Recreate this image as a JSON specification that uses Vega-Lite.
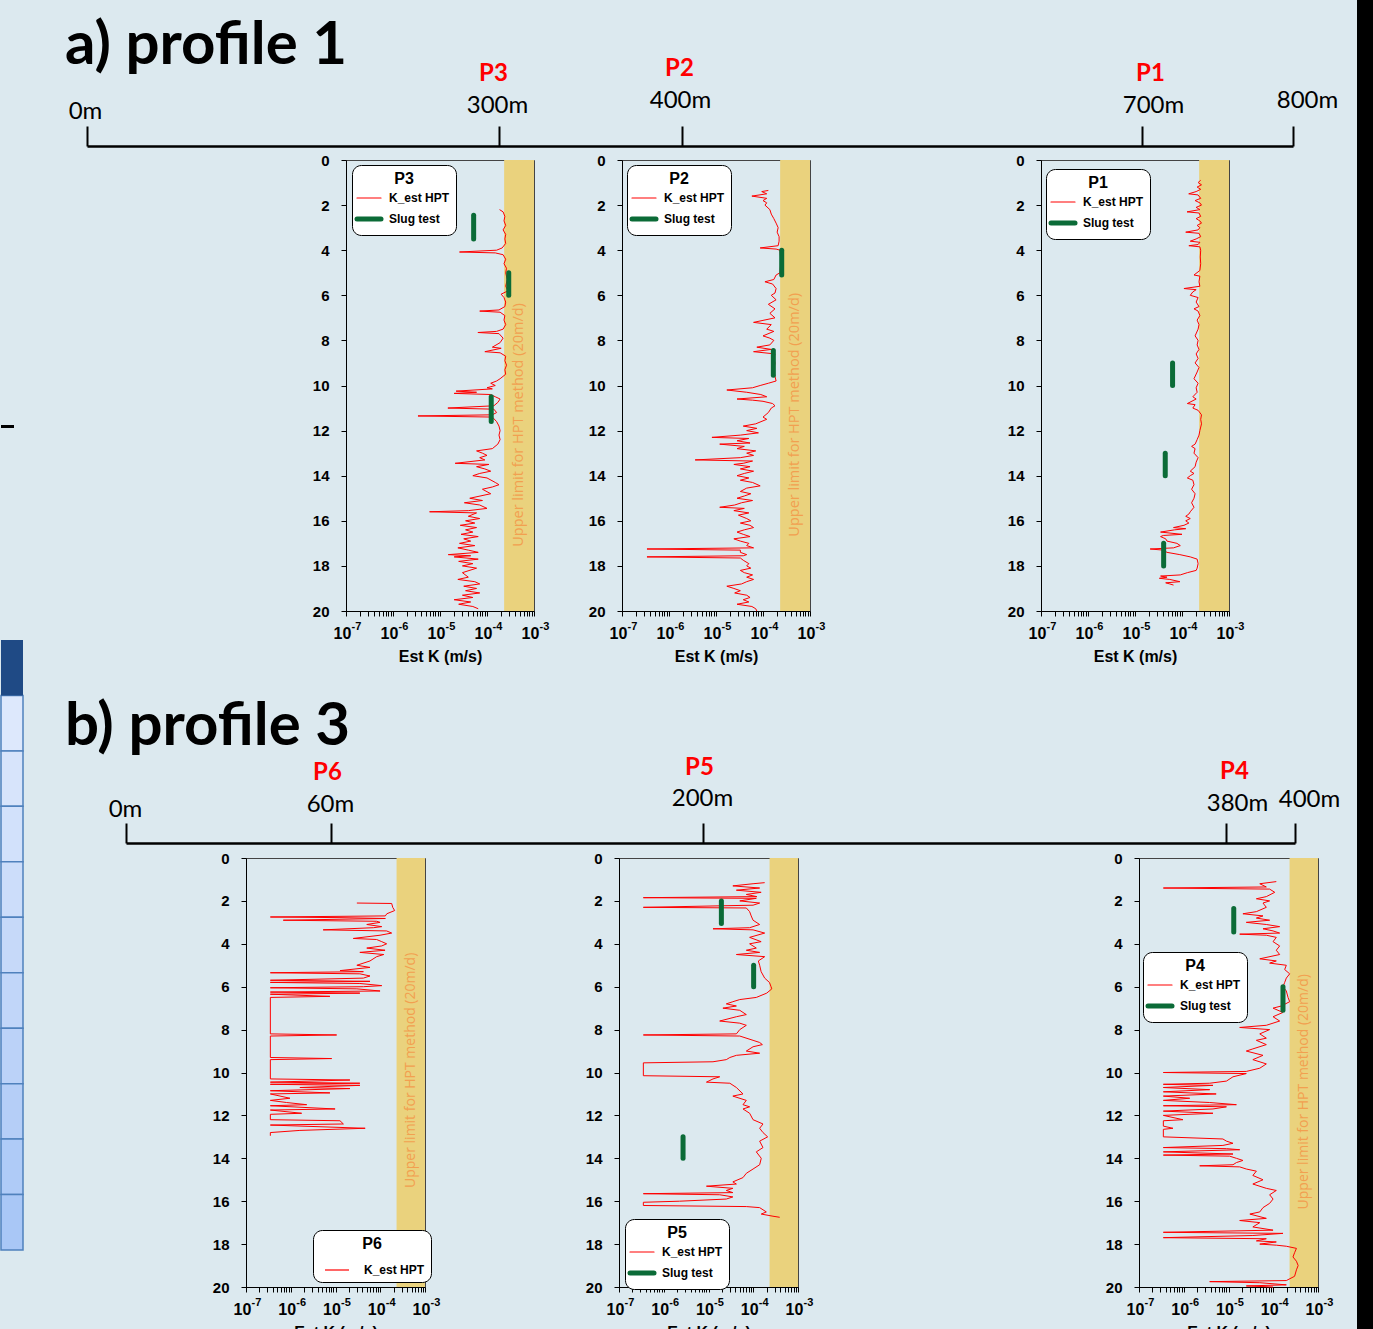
{
  "$schema": "https://vega.github.io/schema/vega-lite/v6.json",
  "usermeta": {"embedOptions": {"actions": false}},
  "background": "#DCE9EF",
  "padding": 0,
  "config": {
    "view": {"stroke": null},
    "axis": {"labelFont": "Liberation Sans", "labelFontWeight": "bold", "labelFontSize": 15, "labelColor": "#000", "titleFont": "Liberation Sans", "titleFontWeight": "bold", "titleFontSize": 16, "titleColor": "#000", "domainColor": "#000", "tickColor": "#000", "grid": false},
    "legend": {"titleFont": "Liberation Sans", "titleFontSize": 16, "titleFontWeight": "bold", "titleColor": "#000", "titleAnchor": "middle", "titlePadding": 5, "labelFont": "Liberation Sans", "labelFontSize": 12, "labelFontWeight": "bold", "labelColor": "#000", "symbolType": "stroke", "symbolSize": 576, "symbolOffset": 5, "symbolStrokeWidth": 1.2, "strokeColor": "#000", "cornerRadius": 9, "fillColor": "#fff", "padding": 6, "rowPadding": 5, "labelOffset": 14, "orient": "none"}
  },
  "datasets": {
    "P3_hpt": [
      {"depth":2.2,"K":1.85e-4},{"depth":2.3,"K":2.2e-4},{"depth":2.5,"K":2.4e-4},{"depth":2.7,"K":2.3e-4},{"depth":2.9,"K":2.5e-4},{"depth":3.1,"K":2.2e-4},{"depth":3.3,"K":2.5e-4},{"depth":3.5,"K":2.4e-4},{"depth":3.7,"K":2.5e-4},{"depth":3.9,"K":2.1e-4},{"depth":4.0,"K":1.6e-4},{"depth":4.08,"K":2.6e-5},{"depth":4.12,"K":1.5e-4},{"depth":4.2,"K":2.2e-4},{"depth":4.4,"K":2.5e-4},{"depth":4.6,"K":2.3e-4},{"depth":4.8,"K":2.6e-4},{"depth":5.0,"K":2.5e-4},{"depth":5.3,"K":2.7e-4},{"depth":5.6,"K":2.5e-4},{"depth":5.8,"K":2.8e-4},{"depth":5.95,"K":2.0e-4},{"depth":6.1,"K":2.3e-4},{"depth":6.3,"K":2.5e-4},{"depth":6.5,"K":2.4e-4},{"depth":6.65,"K":1.8e-4},{"depth":6.7,"K":7.0e-5},{"depth":6.75,"K":1.9e-4},{"depth":6.9,"K":2.4e-4},{"depth":7.1,"K":2.3e-4},{"depth":7.3,"K":2.5e-4},{"depth":7.5,"K":2.2e-4},{"depth":7.6,"K":1.6e-4},{"depth":7.65,"K":6.4e-5},{"depth":7.7,"K":1.8e-4},{"depth":7.9,"K":2.2e-4},{"depth":8.1,"K":1.9e-4},{"depth":8.3,"K":1.3e-4},{"depth":8.35,"K":2.0e-4},{"depth":8.5,"K":9.0e-5},{"depth":8.55,"K":1.9e-4},{"depth":8.7,"K":2.5e-4},{"depth":8.9,"K":2.4e-4},{"depth":9.1,"K":2.6e-4},{"depth":9.3,"K":2.4e-4},{"depth":9.5,"K":2.5e-4},{"depth":9.7,"K":1.9e-4},{"depth":9.8,"K":1.6e-4},{"depth":9.9,"K":1.2e-4},{"depth":10.0,"K":1.5e-4},{"depth":10.1,"K":1.0e-4},{"depth":10.15,"K":1.3e-4},{"depth":10.25,"K":2.2e-5},{"depth":10.3,"K":6.0e-5},{"depth":10.35,"K":2.0e-5},{"depth":10.4,"K":1.2e-4},{"depth":10.5,"K":1.5e-4},{"depth":10.6,"K":1.9e-4},{"depth":10.75,"K":1.7e-4},{"depth":10.9,"K":1.4e-4},{"depth":11.0,"K":1.47e-5},{"depth":11.05,"K":1.4e-4},{"depth":11.2,"K":1.6e-4},{"depth":11.3,"K":1.3e-4},{"depth":11.35,"K":3.4e-6},{"depth":11.4,"K":1.3e-4},{"depth":11.6,"K":1.6e-4},{"depth":11.8,"K":1.8e-4},{"depth":12.0,"K":1.9e-4},{"depth":12.2,"K":1.8e-4},{"depth":12.4,"K":1.9e-4},{"depth":12.6,"K":1.7e-4},{"depth":12.8,"K":1.3e-4},{"depth":12.9,"K":6.0e-5},{"depth":13.0,"K":8.0e-5},{"depth":13.1,"K":1.0e-4},{"depth":13.2,"K":7.0e-5},{"depth":13.3,"K":9.0e-5},{"depth":13.45,"K":2.1e-5},{"depth":13.5,"K":1.1e-4},{"depth":13.6,"K":6.0e-5},{"depth":13.7,"K":9.0e-5},{"depth":13.8,"K":1.2e-4},{"depth":13.9,"K":7.0e-5},{"depth":14.0,"K":5.0e-5},{"depth":14.1,"K":1.0e-4},{"depth":14.3,"K":1.5e-4},{"depth":14.4,"K":1.8e-4},{"depth":14.5,"K":1.3e-4},{"depth":14.6,"K":8.0e-5},{"depth":14.8,"K":1.2e-4},{"depth":15.0,"K":4.3e-5},{"depth":15.1,"K":8.0e-5},{"depth":15.2,"K":3.3e-5},{"depth":15.3,"K":7.0e-5},{"depth":15.45,"K":1.0e-4},{"depth":15.55,"K":4.0e-5},{"depth":15.6,"K":6.0e-6},{"depth":15.65,"K":6.0e-5},{"depth":15.8,"K":4.0e-5},{"depth":15.9,"K":7.0e-5},{"depth":16.0,"K":3.5e-5},{"depth":16.1,"K":5.5e-5},{"depth":16.2,"K":2.7e-5},{"depth":16.3,"K":6.0e-5},{"depth":16.4,"K":3.5e-5},{"depth":16.5,"K":5.0e-5},{"depth":16.6,"K":2.8e-5},{"depth":16.7,"K":6.5e-5},{"depth":16.8,"K":3.2e-5},{"depth":16.9,"K":4.5e-5},{"depth":17.0,"K":2.6e-5},{"depth":17.1,"K":5.5e-5},{"depth":17.2,"K":2.4e-5},{"depth":17.3,"K":4.0e-5},{"depth":17.4,"K":6.5e-5},{"depth":17.5,"K":1.5e-5},{"depth":17.55,"K":4.5e-5},{"depth":17.6,"K":2.0e-5},{"depth":17.7,"K":6.5e-5},{"depth":17.8,"K":2.5e-5},{"depth":17.9,"K":5.0e-5},{"depth":18.0,"K":3.0e-5},{"depth":18.1,"K":6.0e-5},{"depth":18.3,"K":3.0e-5},{"depth":18.5,"K":4.0e-5},{"depth":18.6,"K":2.4e-5},{"depth":18.7,"K":5.5e-5},{"depth":18.8,"K":7.0e-5},{"depth":18.9,"K":3.2e-5},{"depth":19.0,"K":6.0e-5},{"depth":19.1,"K":3.5e-5},{"depth":19.2,"K":7.0e-5},{"depth":19.3,"K":3.0e-5},{"depth":19.4,"K":5.0e-5},{"depth":19.5,"K":2.0e-5},{"depth":19.6,"K":4.5e-5},{"depth":19.7,"K":2.5e-5},{"depth":19.8,"K":5.0e-5},{"depth":19.9,"K":6.5e-5}
    ],
    "P2_hpt": [
      {"depth":1.35,"K":1.3e-4},{"depth":1.4,"K":9.4e-5},{"depth":1.5,"K":1.2e-4},{"depth":1.6,"K":5.8e-5},{"depth":1.7,"K":1.2e-4},{"depth":1.8,"K":1.0e-4},{"depth":1.9,"K":1.2e-4},{"depth":2.0,"K":1.1e-4},{"depth":2.2,"K":1.4e-4},{"depth":2.4,"K":1.5e-4},{"depth":2.6,"K":1.7e-4},{"depth":2.8,"K":1.9e-4},{"depth":3.0,"K":2.1e-4},{"depth":3.2,"K":2.0e-4},{"depth":3.4,"K":2.2e-4},{"depth":3.6,"K":2.2e-4},{"depth":3.8,"K":2.1e-4},{"depth":3.9,"K":8.7e-5},{"depth":3.95,"K":1.9e-4},{"depth":4.0,"K":2.3e-4},{"depth":4.5,"K":2.4e-4},{"depth":5.0,"K":2.3e-4},{"depth":5.1,"K":1.9e-4},{"depth":5.3,"K":1.7e-4},{"depth":5.4,"K":1.1e-4},{"depth":5.5,"K":1.6e-4},{"depth":5.7,"K":1.9e-4},{"depth":5.9,"K":1.8e-4},{"depth":6.0,"K":1.5e-4},{"depth":6.2,"K":1.9e-4},{"depth":6.4,"K":1.3e-4},{"depth":6.6,"K":1.8e-4},{"depth":6.8,"K":1.4e-4},{"depth":7.0,"K":1.8e-4},{"depth":7.2,"K":6.3e-5},{"depth":7.3,"K":1.5e-4},{"depth":7.5,"K":1.2e-4},{"depth":7.6,"K":1.7e-4},{"depth":7.8,"K":1.0e-4},{"depth":7.9,"K":1.4e-4},{"depth":8.0,"K":1.7e-4},{"depth":8.2,"K":1.4e-4},{"depth":8.3,"K":7.4e-5},{"depth":8.4,"K":1.5e-4},{"depth":8.5,"K":6.3e-5},{"depth":8.6,"K":1.8e-4},{"depth":8.8,"K":1.7e-4},{"depth":9.0,"K":1.8e-4},{"depth":9.3,"K":1.7e-4},{"depth":9.6,"K":1.8e-4},{"depth":9.8,"K":1.9e-4},{"depth":9.9,"K":1.3e-4},{"depth":10.0,"K":8.7e-5},{"depth":10.1,"K":6.0e-5},{"depth":10.2,"K":1.7e-5},{"depth":10.3,"K":4.5e-5},{"depth":10.4,"K":9.0e-5},{"depth":10.5,"K":1.2e-4},{"depth":10.6,"K":2.8e-5},{"depth":10.65,"K":6.0e-5},{"depth":10.7,"K":1.0e-4},{"depth":10.8,"K":1.6e-4},{"depth":10.9,"K":1.8e-4},{"depth":11.0,"K":1.5e-4},{"depth":11.2,"K":1.3e-4},{"depth":11.4,"K":1.0e-4},{"depth":11.5,"K":1.2e-4},{"depth":11.7,"K":7.0e-5},{"depth":11.8,"K":3.8e-5},{"depth":11.9,"K":7.4e-5},{"depth":12.0,"K":4.5e-5},{"depth":12.1,"K":8.0e-5},{"depth":12.2,"K":3.3e-5},{"depth":12.3,"K":8.2e-6},{"depth":12.35,"K":5.0e-5},{"depth":12.45,"K":2.8e-5},{"depth":12.55,"K":5.3e-5},{"depth":12.6,"K":1.2e-5},{"depth":12.7,"K":4.0e-5},{"depth":12.8,"K":2.8e-5},{"depth":12.9,"K":7.0e-5},{"depth":13.0,"K":4.5e-5},{"depth":13.1,"K":6.3e-5},{"depth":13.2,"K":3.3e-5},{"depth":13.3,"K":3.6e-6},{"depth":13.35,"K":6.0e-5},{"depth":13.45,"K":3.8e-5},{"depth":13.5,"K":2.4e-5},{"depth":13.6,"K":5.3e-5},{"depth":13.7,"K":3.3e-5},{"depth":13.8,"K":6.3e-5},{"depth":13.9,"K":4.0e-5},{"depth":14.0,"K":2.8e-5},{"depth":14.1,"K":5.0e-5},{"depth":14.2,"K":3.3e-5},{"depth":14.3,"K":6.0e-5},{"depth":14.45,"K":8.7e-5},{"depth":14.55,"K":4.5e-5},{"depth":14.7,"K":3.3e-5},{"depth":14.8,"K":5.5e-5},{"depth":14.9,"K":4.0e-5},{"depth":15.0,"K":2.8e-5},{"depth":15.1,"K":6.0e-5},{"depth":15.2,"K":3.5e-5},{"depth":15.3,"K":2.5e-5},{"depth":15.4,"K":1.2e-5},{"depth":15.45,"K":4.0e-5},{"depth":15.55,"K":2.4e-5},{"depth":15.65,"K":5.0e-5},{"depth":15.75,"K":3.0e-5},{"depth":15.9,"K":4.5e-5},{"depth":16.0,"K":5.5e-5},{"depth":16.1,"K":3.3e-5},{"depth":16.2,"K":5.3e-5},{"depth":16.3,"K":6.3e-5},{"depth":16.4,"K":4.0e-5},{"depth":16.5,"K":2.8e-5},{"depth":16.6,"K":3.8e-5},{"depth":16.7,"K":5.3e-5},{"depth":16.8,"K":2.4e-5},{"depth":16.9,"K":3.3e-5},{"depth":17.0,"K":5.0e-5},{"depth":17.1,"K":4.5e-5},{"depth":17.2,"K":6.3e-5},{"depth":17.25,"K":3.4e-7},{"depth":17.3,"K":3.3e-5},{"depth":17.4,"K":3.3e-5},{"depth":17.5,"K":4.5e-5},{"depth":17.55,"K":3.8e-5},{"depth":17.6,"K":3.4e-7},{"depth":17.65,"K":3.3e-5},{"depth":17.75,"K":3.8e-5},{"depth":17.9,"K":5.0e-5},{"depth":18.0,"K":4.5e-5},{"depth":18.1,"K":5.5e-5},{"depth":18.2,"K":3.3e-5},{"depth":18.3,"K":4.0e-5},{"depth":18.4,"K":6.0e-5},{"depth":18.5,"K":4.5e-5},{"depth":18.6,"K":6.3e-5},{"depth":18.7,"K":4.5e-5},{"depth":18.8,"K":3.5e-5},{"depth":18.9,"K":1.7e-5},{"depth":19.0,"K":2.4e-5},{"depth":19.1,"K":3.3e-5},{"depth":19.2,"K":2.5e-5},{"depth":19.3,"K":4.5e-5},{"depth":19.4,"K":5.3e-5},{"depth":19.5,"K":3.8e-5},{"depth":19.6,"K":5.0e-5},{"depth":19.7,"K":2.8e-5},{"depth":19.8,"K":5.8e-5},{"depth":19.9,"K":7.0e-5},{"depth":20.0,"K":7.4e-5}
    ],
    "P1_hpt": [
      {"depth":0.9,"K":2.5e-4},{"depth":1.0,"K":2.2e-4},{"depth":1.1,"K":2.6e-4},{"depth":1.2,"K":2.1e-4},{"depth":1.3,"K":2.5e-4},{"depth":1.4,"K":2.0e-4},{"depth":1.5,"K":1.39e-4},{"depth":1.55,"K":2.2e-4},{"depth":1.7,"K":2.5e-4},{"depth":1.8,"K":1.9e-4},{"depth":1.9,"K":2.4e-4},{"depth":2.0,"K":2.6e-4},{"depth":2.1,"K":2.0e-4},{"depth":2.2,"K":2.4e-4},{"depth":2.3,"K":1.28e-4},{"depth":2.35,"K":2.3e-4},{"depth":2.5,"K":2.5e-4},{"depth":2.6,"K":2.0e-4},{"depth":2.7,"K":2.4e-4},{"depth":2.8,"K":2.6e-4},{"depth":2.9,"K":2.1e-4},{"depth":3.0,"K":2.4e-4},{"depth":3.1,"K":2.2e-4},{"depth":3.2,"K":1.2e-4},{"depth":3.25,"K":2.3e-4},{"depth":3.4,"K":2.5e-4},{"depth":3.5,"K":2.0e-4},{"depth":3.6,"K":1.5e-4},{"depth":3.65,"K":2.4e-4},{"depth":3.75,"K":2.2e-4},{"depth":3.8,"K":1.4e-4},{"depth":3.85,"K":2.4e-4},{"depth":4.0,"K":2.5e-4},{"depth":4.3,"K":2.45e-4},{"depth":4.6,"K":2.5e-4},{"depth":4.9,"K":2.4e-4},{"depth":5.1,"K":1.8e-4},{"depth":5.15,"K":2.4e-4},{"depth":5.4,"K":2.3e-4},{"depth":5.6,"K":2.4e-4},{"depth":5.7,"K":1.1e-4},{"depth":5.75,"K":2.0e-4},{"depth":5.85,"K":1.7e-4},{"depth":6.0,"K":1.5e-4},{"depth":6.1,"K":2.2e-4},{"depth":6.3,"K":2.0e-4},{"depth":6.5,"K":2.3e-4},{"depth":6.6,"K":1.8e-4},{"depth":6.7,"K":2.2e-4},{"depth":6.9,"K":2.4e-4},{"depth":7.1,"K":2.1e-4},{"depth":7.3,"K":2.3e-4},{"depth":7.5,"K":2.2e-4},{"depth":7.8,"K":1.9e-4},{"depth":8.0,"K":2.2e-4},{"depth":8.2,"K":2.1e-4},{"depth":8.4,"K":2.3e-4},{"depth":8.6,"K":2.0e-4},{"depth":8.8,"K":2.2e-4},{"depth":9.0,"K":1.9e-4},{"depth":9.2,"K":2.3e-4},{"depth":9.4,"K":2.1e-4},{"depth":9.7,"K":1.8e-4},{"depth":9.9,"K":2.2e-4},{"depth":10.1,"K":2.0e-4},{"depth":10.3,"K":2.1e-4},{"depth":10.5,"K":1.7e-4},{"depth":10.6,"K":2.0e-4},{"depth":10.8,"K":1.3e-4},{"depth":10.85,"K":1.9e-4},{"depth":11.0,"K":1.7e-4},{"depth":11.1,"K":2.2e-4},{"depth":11.3,"K":2.6e-4},{"depth":11.5,"K":2.5e-4},{"depth":11.7,"K":2.6e-4},{"depth":12.0,"K":2.4e-4},{"depth":12.2,"K":2.3e-4},{"depth":12.4,"K":2.1e-4},{"depth":12.6,"K":1.9e-4},{"depth":12.7,"K":1.6e-4},{"depth":12.8,"K":1.9e-4},{"depth":13.0,"K":1.8e-4},{"depth":13.2,"K":2.2e-4},{"depth":13.4,"K":2.0e-4},{"depth":13.6,"K":1.9e-4},{"depth":13.8,"K":1.5e-4},{"depth":13.9,"K":1.8e-4},{"depth":14.0,"K":1.5e-4},{"depth":14.1,"K":1.3e-4},{"depth":14.2,"K":1.7e-4},{"depth":14.4,"K":1.8e-4},{"depth":14.6,"K":1.6e-4},{"depth":14.8,"K":1.9e-4},{"depth":15.0,"K":1.8e-4},{"depth":15.2,"K":1.6e-4},{"depth":15.4,"K":1.8e-4},{"depth":15.6,"K":1.5e-4},{"depth":15.7,"K":1.4e-4},{"depth":15.8,"K":1.2e-4},{"depth":15.9,"K":1.5e-4},{"depth":16.0,"K":1.2e-4},{"depth":16.1,"K":1.4e-4},{"depth":16.2,"K":1.1e-4},{"depth":16.3,"K":6.6e-5},{"depth":16.35,"K":1.2e-4},{"depth":16.4,"K":7.0e-5},{"depth":16.5,"K":3.5e-5},{"depth":16.6,"K":1.0e-4},{"depth":16.65,"K":4.0e-5},{"depth":16.7,"K":3.5e-5},{"depth":16.8,"K":4.5e-5},{"depth":16.9,"K":4.8e-5},{"depth":17.0,"K":7.8e-5},{"depth":17.1,"K":9.2e-5},{"depth":17.2,"K":6.6e-5},{"depth":17.25,"K":2.1e-5},{"depth":17.3,"K":4.0e-5},{"depth":17.4,"K":4.8e-5},{"depth":17.5,"K":9.0e-5},{"depth":17.6,"K":1.5e-4},{"depth":17.7,"K":2.1e-4},{"depth":17.9,"K":2.2e-4},{"depth":18.1,"K":2.1e-4},{"depth":18.2,"K":2.0e-4},{"depth":18.3,"K":1.3e-4},{"depth":18.4,"K":9.2e-5},{"depth":18.45,"K":3.5e-5},{"depth":18.5,"K":4.8e-5},{"depth":18.55,"K":3.3e-5},{"depth":18.6,"K":5.5e-5},{"depth":18.7,"K":9.0e-5},{"depth":18.75,"K":4.5e-5},{"depth":18.8,"K":5.5e-5},{"depth":18.85,"K":6.6e-5}
    ],
    "P6_hpt": [
      {"depth":2.1,"K":3.0e-5},{"depth":2.12,"K":1.8e-4},{"depth":2.3,"K":1.9e-4},{"depth":2.45,"K":2.1e-4},{"depth":2.6,"K":1.4e-4},{"depth":2.7,"K":1.3e-4},{"depth":2.75,"K":3.5e-7},{"depth":2.78,"K":1.26e-5},{"depth":2.82,"K":1.3e-4},{"depth":2.9,"K":6.8e-7},{"depth":2.95,"K":8.3e-5},{"depth":3.0,"K":9.9e-5},{"depth":3.1,"K":5.0e-5},{"depth":3.2,"K":1.08e-4},{"depth":3.25,"K":7.0e-5},{"depth":3.35,"K":5.3e-6},{"depth":3.4,"K":1.39e-4},{"depth":3.5,"K":1.8e-4},{"depth":3.6,"K":9.9e-5},{"depth":3.75,"K":2.5e-5},{"depth":3.8,"K":8.3e-5},{"depth":3.9,"K":1.08e-4},{"depth":4.0,"K":1.39e-4},{"depth":4.1,"K":1.08e-4},{"depth":4.2,"K":5.0e-5},{"depth":4.3,"K":1.28e-4},{"depth":4.4,"K":3.5e-5},{"depth":4.5,"K":1.2e-4},{"depth":4.6,"K":8.3e-5},{"depth":4.8,"K":5.9e-5},{"depth":5.0,"K":3.0e-5},{"depth":5.1,"K":5.9e-5},{"depth":5.25,"K":1.26e-5},{"depth":5.3,"K":4.2e-5},{"depth":5.35,"K":3.5e-7},{"depth":5.4,"K":3.5e-5},{"depth":5.5,"K":5.9e-5},{"depth":5.6,"K":4.2e-5},{"depth":5.7,"K":3.5e-7},{"depth":5.75,"K":5.9e-5},{"depth":5.8,"K":3.5e-7},{"depth":5.85,"K":3.5e-5},{"depth":5.95,"K":1.08e-4},{"depth":6.0,"K":4.2e-5},{"depth":6.05,"K":3.5e-7},{"depth":6.1,"K":3.0e-5},{"depth":6.2,"K":9.9e-5},{"depth":6.25,"K":3.5e-7},{"depth":6.3,"K":3.5e-5},{"depth":6.35,"K":3.5e-7},{"depth":6.45,"K":7.5e-6},{"depth":6.5,"K":3.5e-7},{"depth":8.2,"K":3.5e-7},{"depth":8.25,"K":1.06e-5},{"depth":8.3,"K":3.5e-7},{"depth":9.3,"K":3.5e-7},{"depth":9.35,"K":8.2e-6},{"depth":9.4,"K":3.5e-7},{"depth":10.3,"K":3.5e-7},{"depth":10.35,"K":2.1e-5},{"depth":10.45,"K":3.5e-7},{"depth":10.5,"K":3.5e-5},{"depth":10.55,"K":3.5e-7},{"depth":10.6,"K":3.5e-5},{"depth":10.7,"K":1.6e-6},{"depth":10.75,"K":2.1e-5},{"depth":10.85,"K":3.5e-7},{"depth":10.95,"K":7.5e-6},{"depth":11.0,"K":3.5e-7},{"depth":11.2,"K":9.6e-7},{"depth":11.3,"K":3.5e-7},{"depth":11.4,"K":8.1e-7},{"depth":11.5,"K":2.27e-6},{"depth":11.55,"K":3.5e-7},{"depth":11.7,"K":9.8e-6},{"depth":11.75,"K":3.5e-7},{"depth":11.9,"K":1.75e-6},{"depth":11.95,"K":3.5e-7},{"depth":12.2,"K":3.5e-7},{"depth":12.25,"K":1.26e-5},{"depth":12.4,"K":1.5e-5},{"depth":12.45,"K":3.5e-7},{"depth":12.6,"K":4.6e-5},{"depth":12.7,"K":1.6e-6},{"depth":12.8,"K":3.5e-7},{"depth":12.95,"K":3.5e-7}
    ],
    "P5_hpt": [
      {"depth":1.15,"K":1.8e-4},{"depth":1.2,"K":9.9e-5},{"depth":1.3,"K":3.5e-5},{"depth":1.4,"K":1.39e-4},{"depth":1.5,"K":4.2e-5},{"depth":1.6,"K":1.5e-4},{"depth":1.7,"K":7.0e-5},{"depth":1.8,"K":1.2e-4},{"depth":1.85,"K":3.5e-7},{"depth":1.88,"K":1.17e-4},{"depth":2.0,"K":5.0e-5},{"depth":2.1,"K":1.39e-4},{"depth":2.2,"K":9.9e-5},{"depth":2.3,"K":3.5e-7},{"depth":2.33,"K":7.0e-5},{"depth":2.5,"K":8.3e-5},{"depth":2.7,"K":9.0e-5},{"depth":2.9,"K":9.9e-5},{"depth":3.1,"K":1.39e-4},{"depth":3.25,"K":8.3e-5},{"depth":3.3,"K":1.26e-5},{"depth":3.35,"K":9.9e-5},{"depth":3.5,"K":1.8e-4},{"depth":3.7,"K":8.3e-5},{"depth":3.9,"K":1.5e-4},{"depth":4.0,"K":8.3e-5},{"depth":4.2,"K":1.17e-4},{"depth":4.3,"K":7.0e-5},{"depth":4.4,"K":1.39e-4},{"depth":4.5,"K":4.2e-5},{"depth":4.6,"K":1.8e-4},{"depth":4.8,"K":1.3e-4},{"depth":5.0,"K":1.39e-4},{"depth":5.3,"K":1.5e-4},{"depth":5.6,"K":1.8e-4},{"depth":5.8,"K":2.3e-4},{"depth":6.0,"K":2.5e-4},{"depth":6.1,"K":2.6e-4},{"depth":6.3,"K":2.0e-4},{"depth":6.5,"K":1.17e-4},{"depth":6.6,"K":5.0e-5},{"depth":6.7,"K":3.5e-5},{"depth":6.8,"K":2.5e-5},{"depth":6.9,"K":4.2e-5},{"depth":7.0,"K":2.1e-5},{"depth":7.1,"K":5.0e-5},{"depth":7.2,"K":5.9e-5},{"depth":7.3,"K":7.0e-5},{"depth":7.4,"K":4.2e-5},{"depth":7.6,"K":1.78e-5},{"depth":7.7,"K":5.0e-5},{"depth":7.8,"K":7.0e-5},{"depth":8.0,"K":5.0e-5},{"depth":8.2,"K":4.2e-5},{"depth":8.25,"K":3.5e-7},{"depth":8.3,"K":5.0e-5},{"depth":8.5,"K":9.9e-5},{"depth":8.6,"K":1.39e-4},{"depth":8.7,"K":1.6e-4},{"depth":8.8,"K":9.9e-5},{"depth":9.0,"K":7.0e-5},{"depth":9.1,"K":1.39e-4},{"depth":9.2,"K":4.2e-5},{"depth":9.3,"K":3.0e-5},{"depth":9.4,"K":2.5e-5},{"depth":9.5,"K":1.26e-5},{"depth":9.55,"K":3.5e-7},{"depth":10.15,"K":3.5e-7},{"depth":10.2,"K":1.78e-5},{"depth":10.3,"K":1.26e-5},{"depth":10.45,"K":9.0e-6},{"depth":10.5,"K":3.0e-5},{"depth":10.7,"K":4.2e-5},{"depth":11.0,"K":5.9e-5},{"depth":11.1,"K":3.5e-5},{"depth":11.3,"K":7.0e-5},{"depth":11.5,"K":5.9e-5},{"depth":11.6,"K":8.3e-5},{"depth":11.7,"K":5.9e-5},{"depth":11.9,"K":8.3e-5},{"depth":12.2,"K":9.9e-5},{"depth":12.4,"K":1.65e-4},{"depth":12.6,"K":1.39e-4},{"depth":12.8,"K":1.65e-4},{"depth":13.0,"K":2.1e-4},{"depth":13.2,"K":1.39e-4},{"depth":13.5,"K":1.65e-4},{"depth":13.7,"K":1.17e-4},{"depth":14.0,"K":1.51e-4},{"depth":14.3,"K":1.39e-4},{"depth":14.5,"K":9.9e-5},{"depth":14.7,"K":7.0e-5},{"depth":14.9,"K":5.9e-5},{"depth":15.1,"K":3.5e-5},{"depth":15.2,"K":4.2e-5},{"depth":15.3,"K":9.0e-6},{"depth":15.4,"K":3.5e-5},{"depth":15.5,"K":2.5e-5},{"depth":15.6,"K":3.5e-5},{"depth":15.65,"K":3.5e-7},{"depth":15.7,"K":1.78e-5},{"depth":15.8,"K":3.5e-5},{"depth":15.9,"K":2.5e-5},{"depth":16.0,"K":2.27e-6},{"depth":16.05,"K":3.5e-7},{"depth":16.2,"K":3.5e-7},{"depth":16.25,"K":7.0e-5},{"depth":16.3,"K":1.39e-4},{"depth":16.5,"K":1.96e-4},{"depth":16.6,"K":1.51e-4},{"depth":16.7,"K":2.76e-4},{"depth":16.75,"K":3.9e-4}
    ],
    "P4_hpt": [
      {"depth":1.1,"K":1.17e-4},{"depth":1.2,"K":5.0e-5},{"depth":1.35,"K":7.0e-5},{"depth":1.4,"K":3.5e-7},{"depth":1.45,"K":8.3e-5},{"depth":1.6,"K":1.08e-4},{"depth":1.8,"K":7.0e-5},{"depth":1.9,"K":4.2e-5},{"depth":2.0,"K":8.3e-5},{"depth":2.1,"K":5.9e-5},{"depth":2.3,"K":7.0e-5},{"depth":2.5,"K":4.2e-5},{"depth":2.6,"K":2.1e-5},{"depth":2.7,"K":5.9e-5},{"depth":2.8,"K":4.2e-5},{"depth":2.9,"K":8.3e-5},{"depth":3.0,"K":2.5e-5},{"depth":3.1,"K":7.0e-5},{"depth":3.2,"K":1.39e-4},{"depth":3.3,"K":5.9e-5},{"depth":3.4,"K":9.9e-5},{"depth":3.5,"K":1.39e-4},{"depth":3.55,"K":1.78e-5},{"depth":3.6,"K":7.0e-5},{"depth":3.7,"K":1.17e-4},{"depth":3.9,"K":9.9e-5},{"depth":4.1,"K":1.39e-4},{"depth":4.3,"K":1.17e-4},{"depth":4.5,"K":1.39e-4},{"depth":4.7,"K":5.0e-5},{"depth":4.8,"K":1.17e-4},{"depth":4.9,"K":8.3e-5},{"depth":5.0,"K":1.96e-4},{"depth":5.2,"K":1.8e-4},{"depth":5.4,"K":2.33e-4},{"depth":5.6,"K":1.96e-4},{"depth":5.8,"K":1.8e-4},{"depth":6.0,"K":1.65e-4},{"depth":6.2,"K":1.96e-4},{"depth":6.5,"K":2.14e-4},{"depth":6.7,"K":2.33e-4},{"depth":6.9,"K":1.51e-4},{"depth":7.0,"K":9.9e-5},{"depth":7.2,"K":1.65e-4},{"depth":7.4,"K":9.9e-5},{"depth":7.6,"K":1.39e-4},{"depth":7.8,"K":7.0e-5},{"depth":7.9,"K":1.78e-5},{"depth":8.0,"K":8.3e-5},{"depth":8.2,"K":5.0e-5},{"depth":8.4,"K":7.0e-5},{"depth":8.5,"K":4.2e-5},{"depth":8.7,"K":7.0e-5},{"depth":8.9,"K":3.5e-5},{"depth":9.0,"K":2.5e-5},{"depth":9.2,"K":5.9e-5},{"depth":9.4,"K":3.5e-5},{"depth":9.6,"K":7.0e-5},{"depth":9.8,"K":5.0e-5},{"depth":9.95,"K":2.5e-5},{"depth":10.0,"K":3.5e-7},{"depth":10.05,"K":2.5e-5},{"depth":10.2,"K":1.26e-5},{"depth":10.4,"K":9.0e-6},{"depth":10.5,"K":3.8e-6},{"depth":10.55,"K":3.5e-7},{"depth":10.6,"K":4.5e-6},{"depth":10.7,"K":3.5e-7},{"depth":10.8,"K":3.8e-6},{"depth":10.9,"K":3.5e-7},{"depth":11.0,"K":5.3e-6},{"depth":11.1,"K":3.5e-7},{"depth":11.2,"K":1.36e-6},{"depth":11.3,"K":3.5e-7},{"depth":11.4,"K":3.8e-6},{"depth":11.5,"K":1.5e-5},{"depth":11.55,"K":3.5e-7},{"depth":11.6,"K":9.0e-6},{"depth":11.7,"K":4.5e-6},{"depth":11.8,"K":3.5e-7},{"depth":11.9,"K":4.5e-6},{"depth":12.0,"K":3.5e-7},{"depth":12.2,"K":9.6e-7},{"depth":12.25,"K":3.5e-7},{"depth":12.5,"K":3.5e-7},{"depth":12.6,"K":5.75e-7},{"depth":12.65,"K":3.5e-7},{"depth":13.0,"K":3.5e-7},{"depth":13.1,"K":7.5e-6},{"depth":13.2,"K":9.0e-6},{"depth":13.3,"K":1.26e-5},{"depth":13.4,"K":7.5e-6},{"depth":13.5,"K":3.5e-7},{"depth":13.55,"K":9.0e-6},{"depth":13.6,"K":1.78e-5},{"depth":13.7,"K":3.5e-7},{"depth":13.8,"K":1.26e-5},{"depth":13.85,"K":3.5e-7},{"depth":13.9,"K":1.06e-5},{"depth":14.0,"K":1.5e-5},{"depth":14.1,"K":2.1e-5},{"depth":14.2,"K":1.5e-5},{"depth":14.3,"K":1.26e-5},{"depth":14.35,"K":2.27e-6},{"depth":14.4,"K":1.78e-5},{"depth":14.5,"K":2.5e-5},{"depth":14.6,"K":4.2e-5},{"depth":14.8,"K":3.5e-5},{"depth":15.0,"K":5.9e-5},{"depth":15.2,"K":3.5e-5},{"depth":15.4,"K":7.0e-5},{"depth":15.5,"K":1.17e-4},{"depth":15.7,"K":8.3e-5},{"depth":15.9,"K":9.9e-5},{"depth":16.1,"K":8.3e-5},{"depth":16.3,"K":5.9e-5},{"depth":16.5,"K":5.0e-5},{"depth":16.6,"K":3.0e-5},{"depth":16.8,"K":7.0e-5},{"depth":16.9,"K":1.78e-5},{"depth":17.0,"K":5.0e-5},{"depth":17.2,"K":3.5e-5},{"depth":17.35,"K":9.9e-5},{"depth":17.45,"K":3.5e-7},{"depth":17.5,"K":1.65e-4},{"depth":17.6,"K":3.5e-5},{"depth":17.7,"K":3.5e-7},{"depth":17.75,"K":7.0e-5},{"depth":17.85,"K":4.2e-5},{"depth":17.9,"K":1.17e-4},{"depth":18.0,"K":5.0e-5},{"depth":18.05,"K":1.17e-4},{"depth":18.1,"K":1.96e-4},{"depth":18.2,"K":3.3e-4},{"depth":18.4,"K":3.0e-4},{"depth":18.6,"K":2.76e-4},{"depth":18.8,"K":3.3e-4},{"depth":19.0,"K":3.6e-4},{"depth":19.2,"K":3.3e-4},{"depth":19.5,"K":3.0e-4},{"depth":19.7,"K":1.96e-4},{"depth":19.75,"K":3.8e-6},{"depth":19.8,"K":5.0e-5},{"depth":19.9,"K":1.96e-4},{"depth":19.95,"K":2.5e-5},{"depth":20.0,"K":9.9e-5}
    ],
    "slug": [
      {"well":"P3","K":5.2e-5,"top":2.45,"bottom":3.5},
      {"well":"P3","K":2.9e-4,"top":5.0,"bottom":6.0},
      {"well":"P3","K":1.23e-4,"top":10.5,"bottom":11.6},
      {"well":"P2","K":2.5e-4,"top":4.0,"bottom":5.1},
      {"well":"P2","K":1.66e-4,"top":8.45,"bottom":9.55},
      {"well":"P1","K":6.3e-5,"top":9.0,"bottom":10.0},
      {"well":"P1","K":4.4e-5,"top":13.0,"bottom":14.0},
      {"well":"P1","K":4.07e-5,"top":17.0,"bottom":18.0},
      {"well":"P5","K":1.94e-5,"top":2.0,"bottom":3.05},
      {"well":"P5","K":1.02e-4,"top":5.0,"bottom":6.0},
      {"well":"P5","K":2.7e-6,"top":13.0,"bottom":14.0},
      {"well":"P4","K":1.31e-5,"top":2.35,"bottom":3.45},
      {"well":"P4","K":1.65e-4,"top":6.0,"bottom":7.1}
    ]
  },
  "spacing": 0,
  "hconcat": [
    {
      "vconcat": [
        {"width": 22, "height": 425, "data": {"values": []}, "mark": "point"},
        {"width": 13, "height": 3, "data": {"values": []}, "mark": "point", "view": {"fill": "#000", "stroke": null}},
        {"width": 22, "height": 212, "data": {"values": []}, "mark": "point"},
        {
          "width": 22, "height": 610,
          "data": {"values": [{"r": 0}, {"r": 1}, {"r": 2}, {"r": 3}, {"r": 4}, {"r": 5}, {"r": 6}, {"r": 7}, {"r": 8}, {"r": 9}, {"r": 10}]},
          "layer": [
            {"transform": [{"filter": "datum.r > 0"}], "mark": {"type": "rect", "stroke": "#4f81bd", "strokeWidth": 1.5}, "encoding": {
              "y": {"field": "r", "type": "ordinal", "scale": {"paddingInner": 0, "paddingOuter": 0}, "axis": null},
              "color": {"field": "r", "type": "quantitative", "scale": {"domain": [1, 10], "range": ["#dde8fc", "#a9c7f6"]}, "legend": null}}},
            {"transform": [{"filter": "datum.r == 0"}], "mark": {"type": "rect", "color": "#1f4a85"}, "encoding": {
              "y": {"field": "r", "type": "ordinal", "axis": null}}}
          ]
        }
      ],
      "spacing": 0
    },
    {
      "spacing": 0,
      "resolve": {
        "scale": {"x": "independent", "y": "independent", "color": "independent"},
        "axis": {"x": "independent", "y": "independent"},
        "legend": {"color": "independent"}
      },
      "vconcat": [
        {"width": 1, "height": 16, "data": {"values": []}, "mark": "point"},
        {
          "hconcat": [
            {"width": 63, "height": 3, "data": {"values": []}, "mark": "point"},
            {
              "width": 1206, "height": 3,
              "title": {"text": "a) profile 1", "anchor": "start", "frame": "group", "font": "Lato", "fontSize": 60, "fontWeight": "bold", "color": "#000", "dx": -22, "dy": 21, "offset": 0},
              "data": {"values": [{"dist": 0}, {"dist": 300}, {"dist": 400}, {"dist": 700}, {"dist": 800}]},
              "layer": [
                {"mark": {"type": "point", "opacity": 0}, "encoding": {
                  "x": {"field": "dist", "type": "quantitative", "scale": {"domain": [0, 300, 400, 700, 800], "range": [0, 412, 595, 1055, 1206], "nice": false, "zero": false}, "axis": {"orient": "top", "title": null, "values": [0, 300, 400, 700, 800], "labelExpr": "datum.value + 'm'", "labelFont": "Lato", "labelFontWeight": "normal", "labelFontSize": 24,
                    "labelPadding": {"condition": [{"test": "datum.value == 0", "value": 3}, {"test": "datum.value == 400 || datum.value == 800", "value": 14}], "value": 9},
                    "labelOffset": {"condition": [{"test": "datum.value == 700", "value": 11}, {"test": "datum.value == 800", "value": 14}], "value": -2},
                    "labelFlush": false, "labelOverlap": false, "tickSize": 20, "tickWidth": 2, "domainWidth": 2.5, "grid": false}},
                  "y": {"datum": 0, "type": "quantitative", "scale": {"domain": [0, 1]}, "axis": null}}},
                {"mark": {"type": "point", "opacity": 0}, "encoding": {
                  "x": {"field": "dist", "type": "quantitative", "scale": {"domain": [0, 300, 400, 700, 800], "range": [0, 412, 595, 1055, 1206], "nice": false, "zero": false}, "axis": {"orient": "top", "title": null, "offset": 54, "domain": false, "ticks": false, "tickSize": 0, "values": [300, 400, 700], "labelExpr": "datum.value == 300 ? 'P3' : datum.value == 400 ? 'P2' : 'P1'", "labelFont": "Lato", "labelFontWeight": "bold", "labelFontSize": 24, "labelColor": "#ff0000",
                    "labelPadding": {"condition": [{"test": "datum.value == 400", "value": 12}], "value": 7},
                    "labelOffset": {"condition": [{"test": "datum.value == 300", "value": -6}, {"test": "datum.value == 400", "value": -3}], "value": 8},
                    "labelFlush": false, "labelOverlap": false, "grid": false}},
                  "y": {"datum": 0, "type": "quantitative", "scale": {"domain": [0, 1]}, "axis": null}}}
              ],
              "resolve": {"scale": {"x": "independent"}, "axis": {"x": "independent"}}
            },
            {"width": 64, "height": 3, "data": {"values": []}, "mark": "point"}
          ],
          "spacing": 0, "bounds": "flush"
        },
        {
          "hconcat": [
            {"width": 322, "height": 451, "data": {"values": []}, "mark": "point"},
            {
              "width": 188, "height": 451,
              "view": {"stroke": "#444", "strokeWidth": 1},
              "layer": [
                {"layer": [
                  {"data": {"values": [{}]}, "mark": {"type": "rect", "color": "#EAD27D"}, "encoding": {"x": {"datum": 0.0002315, "type": "quantitative"}, "x2": {"datum": 0.001}, "y": {"datum": 0, "type": "quantitative"}, "y2": {"datum": 20}}},
                  {"data": {"values": [{}]}, "mark": {"type": "text", "text": "Upper limit for HPT method (20m/d)", "angle": 270, "font": "Open Sans", "fontSize": 14.5, "color": "#F2A050", "align": "center", "baseline": "middle"}, "encoding": {"x": {"datum": 0.00048, "type": "quantitative"}, "y": {"datum": 11.75, "type": "quantitative"}}},
                  {"data": {"name": "P3_hpt"}, "mark": {"type": "line", "strokeWidth": 1}, "encoding": {
                    "x": {"field": "K", "type": "quantitative", "scale": {"type": "log", "domain": [1e-7, 1e-3], "nice": false}, "axis": {"title": "Est K (m/s)", "values": [1e-7,2e-7,3e-7,4e-7,5e-7,6e-7,7e-7,8e-7,9e-7,1e-6,2e-6,3e-6,4e-6,5e-6,6e-6,7e-6,8e-6,9e-6,1e-5,2e-5,3e-5,4e-5,5e-5,6e-5,7e-5,8e-5,9e-5,1e-4,2e-4,3e-4,4e-4,5e-4,6e-4,7e-4,8e-4,9e-4,1e-3], "labelExpr": "abs(log(datum.value)/LN10 - round(log(datum.value)/LN10)) < 0.01 ? '10' : ''", "labelFontSize": 16, "labelPadding": 9, "labelOffset": -4, "labelFlush": false, "labelOverlap": false, "tickSize": 5, "titlePadding": 7}},
                    "y": {"field": "depth", "type": "quantitative", "scale": {"domain": [0, 20], "reverse": true, "nice": false, "zero": false}, "axis": {"title": null, "values": [0,1,2,3,4,5,6,7,8,9,10,11,12,13,14,15,16,17,18,19,20], "labelExpr": "datum.value % 2 == 0 ? datum.label : ''", "tickSize": 5, "labelPadding": 12, "labelOverlap": false}},
                    "order": {"field": "depth"},
                    "color": {"datum": "K_est HPT", "scale": {"domain": ["K_est HPT", "Slug test"], "range": ["#ff0000", "#0b6b37"]}, "legend": {"title": "P3", "legendX": 6, "legendY": 5, "encode": {"symbols": {"update": {"strokeWidth": {"signal": "datum.value == 'Slug test' ? 5 : 1.2"}, "strokeCap": {"value": "round"}}}}}}
                  }},
                  {"data": {"name": "slug"}, "transform": [{"filter": "datum.well == 'P3'"}], "mark": {"type": "rule", "strokeWidth": 5, "strokeCap": "round"}, "encoding": {"x": {"field": "K", "type": "quantitative"}, "y": {"field": "top", "type": "quantitative"}, "y2": {"field": "bottom"}, "color": {"datum": "Slug test"}}}
                ]},
                {"data": {"values": [{}]}, "mark": {"type": "point", "opacity": 0}, "encoding": {
                  "x": {"datum": 1e-5, "type": "quantitative", "scale": {"type": "log", "domain": [1e-7, 1e-3], "nice": false}, "axis": {"orient": "bottom", "title": null, "values": [1e-7, 1e-6, 1e-5, 1e-4, 1e-3], "labelExpr": "'-' + format(-round(log(datum.value)/LN10), 'd')", "domain": false, "ticks": false, "tickSize": 0, "labelFontSize": 11, "labelPadding": 9, "labelOffset": 10, "labelFlush": false, "labelOverlap": false}},
                  "y": {"datum": 0, "type": "quantitative"}}}
              ],
              "resolve": {"scale": {"x": "independent"}, "axis": {"x": "independent"}}
            },
            {"width": 88, "height": 451, "data": {"values": []}, "mark": "point"},
            {
              "width": 188, "height": 451,
              "view": {"stroke": "#444", "strokeWidth": 1},
              "layer": [
                {"layer": [
                  {"data": {"values": [{}]}, "mark": {"type": "rect", "color": "#EAD27D"}, "encoding": {"x": {"datum": 0.0002315, "type": "quantitative"}, "x2": {"datum": 0.001}, "y": {"datum": 0, "type": "quantitative"}, "y2": {"datum": 20}}},
                  {"data": {"values": [{}]}, "mark": {"type": "text", "text": "Upper limit for HPT method (20m/d)", "angle": 270, "font": "Open Sans", "fontSize": 14.5, "color": "#F2A050", "align": "center", "baseline": "middle"}, "encoding": {"x": {"datum": 0.00048, "type": "quantitative"}, "y": {"datum": 11.3, "type": "quantitative"}}},
                  {"data": {"name": "P2_hpt"}, "mark": {"type": "line", "strokeWidth": 1}, "encoding": {
                    "x": {"field": "K", "type": "quantitative", "scale": {"type": "log", "domain": [1e-7, 1e-3], "nice": false}, "axis": {"title": "Est K (m/s)", "values": [1e-7,2e-7,3e-7,4e-7,5e-7,6e-7,7e-7,8e-7,9e-7,1e-6,2e-6,3e-6,4e-6,5e-6,6e-6,7e-6,8e-6,9e-6,1e-5,2e-5,3e-5,4e-5,5e-5,6e-5,7e-5,8e-5,9e-5,1e-4,2e-4,3e-4,4e-4,5e-4,6e-4,7e-4,8e-4,9e-4,1e-3], "labelExpr": "abs(log(datum.value)/LN10 - round(log(datum.value)/LN10)) < 0.01 ? '10' : ''", "labelFontSize": 16, "labelPadding": 9, "labelOffset": -4, "labelFlush": false, "labelOverlap": false, "tickSize": 5, "titlePadding": 7}},
                    "y": {"field": "depth", "type": "quantitative", "scale": {"domain": [0, 20], "reverse": true, "nice": false, "zero": false}, "axis": {"title": null, "values": [0,1,2,3,4,5,6,7,8,9,10,11,12,13,14,15,16,17,18,19,20], "labelExpr": "datum.value % 2 == 0 ? datum.label : ''", "tickSize": 5, "labelPadding": 12, "labelOverlap": false}},
                    "order": {"field": "depth"},
                    "color": {"datum": "K_est HPT", "scale": {"domain": ["K_est HPT", "Slug test"], "range": ["#ff0000", "#0b6b37"]}, "legend": {"title": "P2", "legendX": 5, "legendY": 5, "encode": {"symbols": {"update": {"strokeWidth": {"signal": "datum.value == 'Slug test' ? 5 : 1.2"}, "strokeCap": {"value": "round"}}}}}}
                  }},
                  {"data": {"name": "slug"}, "transform": [{"filter": "datum.well == 'P2'"}], "mark": {"type": "rule", "strokeWidth": 5, "strokeCap": "round"}, "encoding": {"x": {"field": "K", "type": "quantitative"}, "y": {"field": "top", "type": "quantitative"}, "y2": {"field": "bottom"}, "color": {"datum": "Slug test"}}}
                ]},
                {"data": {"values": [{}]}, "mark": {"type": "point", "opacity": 0}, "encoding": {
                  "x": {"datum": 1e-5, "type": "quantitative", "scale": {"type": "log", "domain": [1e-7, 1e-3], "nice": false}, "axis": {"orient": "bottom", "title": null, "values": [1e-7, 1e-6, 1e-5, 1e-4, 1e-3], "labelExpr": "'-' + format(-round(log(datum.value)/LN10), 'd')", "domain": false, "ticks": false, "tickSize": 0, "labelFontSize": 11, "labelPadding": 9, "labelOffset": 10, "labelFlush": false, "labelOverlap": false}},
                  "y": {"datum": 0, "type": "quantitative"}}}
              ],
              "resolve": {"scale": {"x": "independent"}, "axis": {"x": "independent"}}
            },
            {"width": 231, "height": 451, "data": {"values": []}, "mark": "point"},
            {
              "width": 188, "height": 451,
              "view": {"stroke": "#444", "strokeWidth": 1},
              "layer": [
                {"layer": [
                  {"data": {"values": [{}]}, "mark": {"type": "rect", "color": "#EAD27D"}, "encoding": {"x": {"datum": 0.0002315, "type": "quantitative"}, "x2": {"datum": 0.001}, "y": {"datum": 0, "type": "quantitative"}, "y2": {"datum": 20}}},
                  {"data": {"name": "P1_hpt"}, "mark": {"type": "line", "strokeWidth": 1}, "encoding": {
                    "x": {"field": "K", "type": "quantitative", "scale": {"type": "log", "domain": [1e-7, 1e-3], "nice": false}, "axis": {"title": "Est K (m/s)", "values": [1e-7,2e-7,3e-7,4e-7,5e-7,6e-7,7e-7,8e-7,9e-7,1e-6,2e-6,3e-6,4e-6,5e-6,6e-6,7e-6,8e-6,9e-6,1e-5,2e-5,3e-5,4e-5,5e-5,6e-5,7e-5,8e-5,9e-5,1e-4,2e-4,3e-4,4e-4,5e-4,6e-4,7e-4,8e-4,9e-4,1e-3], "labelExpr": "abs(log(datum.value)/LN10 - round(log(datum.value)/LN10)) < 0.01 ? '10' : ''", "labelFontSize": 16, "labelPadding": 9, "labelOffset": -4, "labelFlush": false, "labelOverlap": false, "tickSize": 5, "titlePadding": 7}},
                    "y": {"field": "depth", "type": "quantitative", "scale": {"domain": [0, 20], "reverse": true, "nice": false, "zero": false}, "axis": {"title": null, "values": [0,1,2,3,4,5,6,7,8,9,10,11,12,13,14,15,16,17,18,19,20], "labelExpr": "datum.value % 2 == 0 ? datum.label : ''", "tickSize": 5, "labelPadding": 12, "labelOverlap": false}},
                    "order": {"field": "depth"},
                    "color": {"datum": "K_est HPT", "scale": {"domain": ["K_est HPT", "Slug test"], "range": ["#ff0000", "#0b6b37"]}, "legend": {"title": "P1", "legendX": 5, "legendY": 9, "encode": {"symbols": {"update": {"strokeWidth": {"signal": "datum.value == 'Slug test' ? 5 : 1.2"}, "strokeCap": {"value": "round"}}}}}}
                  }},
                  {"data": {"name": "slug"}, "transform": [{"filter": "datum.well == 'P1'"}], "mark": {"type": "rule", "strokeWidth": 5, "strokeCap": "round"}, "encoding": {"x": {"field": "K", "type": "quantitative"}, "y": {"field": "top", "type": "quantitative"}, "y2": {"field": "bottom"}, "color": {"datum": "Slug test"}}}
                ]},
                {"data": {"values": [{}]}, "mark": {"type": "point", "opacity": 0}, "encoding": {
                  "x": {"datum": 1e-5, "type": "quantitative", "scale": {"type": "log", "domain": [1e-7, 1e-3], "nice": false}, "axis": {"orient": "bottom", "title": null, "values": [1e-7, 1e-6, 1e-5, 1e-4, 1e-3], "labelExpr": "'-' + format(-round(log(datum.value)/LN10), 'd')", "domain": false, "ticks": false, "tickSize": 0, "labelFontSize": 11, "labelPadding": 9, "labelOffset": 10, "labelFlush": false, "labelOverlap": false}},
                  "y": {"datum": 0, "type": "quantitative"}}}
              ],
              "resolve": {"scale": {"x": "independent"}, "axis": {"x": "independent"}}
            }
          ],
          "spacing": 0, "bounds": "flush",
          "resolve": {"scale": {"color": "independent"}, "legend": {"color": "independent"}}
        },
        {"width": 1, "height": 32, "data": {"values": []}, "mark": "point"},
        {
          "hconcat": [
            {"width": 102, "height": 4, "data": {"values": []}, "mark": "point"},
            {
              "width": 1169, "height": 4,
              "title": {"text": "b) profile 3", "anchor": "start", "frame": "group", "font": "Lato", "fontSize": 60, "fontWeight": "bold", "color": "#000", "dx": -61, "dy": 3, "offset": 0},
              "data": {"values": [{"dist": 0}, {"dist": 60}, {"dist": 200}, {"dist": 380}, {"dist": 400}]},
              "layer": [
                {"mark": {"type": "point", "opacity": 0}, "encoding": {
                  "x": {"field": "dist", "type": "quantitative", "scale": {"domain": [0, 60, 200, 380, 400], "range": [0, 205, 577, 1100, 1169], "nice": false, "zero": false}, "axis": {"orient": "top", "title": null, "values": [0, 60, 200, 380, 400], "labelExpr": "datum.value + 'm'", "labelFont": "Lato", "labelFontWeight": "normal", "labelFontSize": 24,
                    "labelPadding": {"condition": [{"test": "datum.value == 0", "value": 2}, {"test": "datum.value == 60", "value": 7}, {"test": "datum.value == 200", "value": 13}, {"test": "datum.value == 380", "value": 8}], "value": 12},
                    "labelOffset": {"condition": [{"test": "datum.value == 380", "value": 11}, {"test": "datum.value == 400", "value": 14}], "value": -1},
                    "labelFlush": false, "labelOverlap": false, "tickSize": 20, "tickWidth": 2, "domainWidth": 2.5, "grid": false}},
                  "y": {"datum": 0, "type": "quantitative", "scale": {"domain": [0, 1]}, "axis": null}}},
                {"mark": {"type": "point", "opacity": 0}, "encoding": {
                  "x": {"field": "dist", "type": "quantitative", "scale": {"domain": [0, 60, 200, 380, 400], "range": [0, 205, 577, 1100, 1169], "nice": false, "zero": false}, "axis": {"orient": "top", "title": null, "offset": 54, "domain": false, "ticks": false, "tickSize": 0, "values": [60, 200, 380], "labelExpr": "datum.value == 60 ? 'P6' : datum.value == 200 ? 'P5' : 'P4'", "labelFont": "Lato", "labelFontWeight": "bold", "labelFontSize": 24, "labelColor": "#ff0000",
                    "labelPadding": {"condition": [{"test": "datum.value == 60", "value": 5}, {"test": "datum.value == 380", "value": 6}], "value": 10},
                    "labelOffset": {"condition": [{"test": "datum.value == 380", "value": 8}], "value": -4},
                    "labelFlush": false, "labelOverlap": false, "grid": false}},
                  "y": {"datum": 0, "type": "quantitative", "scale": {"domain": [0, 1]}, "axis": null}}}
              ],
              "resolve": {"scale": {"x": "independent"}, "axis": {"x": "independent"}}
            }
          ],
          "spacing": 0, "bounds": "flush"
        },
        {
          "hconcat": [
            {"width": 222, "height": 429, "data": {"values": []}, "mark": "point"},
            {
              "width": 179, "height": 429,
              "view": {"stroke": "#444", "strokeWidth": 1},
              "layer": [
                {"layer": [
                  {"data": {"values": [{}]}, "mark": {"type": "rect", "color": "#EAD27D"}, "encoding": {"x": {"datum": 0.0002315, "type": "quantitative"}, "x2": {"datum": 0.001}, "y": {"datum": 0, "type": "quantitative"}, "y2": {"datum": 20}}},
                  {"data": {"values": [{}]}, "mark": {"type": "text", "text": "Upper limit for HPT method (20m/d)", "angle": 270, "font": "Open Sans", "fontSize": 14, "color": "#F2A050", "align": "center", "baseline": "middle"}, "encoding": {"x": {"datum": 0.00048, "type": "quantitative"}, "y": {"datum": 9.9, "type": "quantitative"}}},
                  {"data": {"name": "P6_hpt"}, "mark": {"type": "line", "strokeWidth": 1}, "encoding": {
                    "x": {"field": "K", "type": "quantitative", "scale": {"type": "log", "domain": [1e-7, 1e-3], "nice": false}, "axis": {"title": "Est K (m/s)", "values": [1e-7,2e-7,3e-7,4e-7,5e-7,6e-7,7e-7,8e-7,9e-7,1e-6,2e-6,3e-6,4e-6,5e-6,6e-6,7e-6,8e-6,9e-6,1e-5,2e-5,3e-5,4e-5,5e-5,6e-5,7e-5,8e-5,9e-5,1e-4,2e-4,3e-4,4e-4,5e-4,6e-4,7e-4,8e-4,9e-4,1e-3], "labelExpr": "abs(log(datum.value)/LN10 - round(log(datum.value)/LN10)) < 0.01 ? '10' : ''", "labelFontSize": 16, "labelPadding": 9, "labelOffset": -4, "labelFlush": false, "labelOverlap": false, "tickSize": 5, "titlePadding": 7}},
                    "y": {"field": "depth", "type": "quantitative", "scale": {"domain": [0, 20], "reverse": true, "nice": false, "zero": false}, "axis": {"title": null, "values": [0,1,2,3,4,5,6,7,8,9,10,11,12,13,14,15,16,17,18,19,20], "labelExpr": "datum.value % 2 == 0 ? datum.label : ''", "tickSize": 5, "labelPadding": 12, "labelOverlap": false}},
                    "order": {"field": "depth"},
                    "color": {"datum": "K_est HPT", "scale": {"domain": ["K_est HPT"], "range": ["#ff0000"]}, "legend": {"title": "P6", "legendX": 67, "legendY": 372}}
                  }}
                ]},
                {"data": {"values": [{}]}, "mark": {"type": "point", "opacity": 0}, "encoding": {
                  "x": {"datum": 1e-5, "type": "quantitative", "scale": {"type": "log", "domain": [1e-7, 1e-3], "nice": false}, "axis": {"orient": "bottom", "title": null, "values": [1e-7, 1e-6, 1e-5, 1e-4, 1e-3], "labelExpr": "'-' + format(-round(log(datum.value)/LN10), 'd')", "domain": false, "ticks": false, "tickSize": 0, "labelFontSize": 11, "labelPadding": 9, "labelOffset": 10, "labelFlush": false, "labelOverlap": false}},
                  "y": {"datum": 0, "type": "quantitative"}}}
              ],
              "resolve": {"scale": {"x": "independent"}, "axis": {"x": "independent"}}
            },
            {"width": 194, "height": 429, "data": {"values": []}, "mark": "point"},
            {
              "width": 179, "height": 429,
              "view": {"stroke": "#444", "strokeWidth": 1},
              "layer": [
                {"layer": [
                  {"data": {"values": [{}]}, "mark": {"type": "rect", "color": "#EAD27D"}, "encoding": {"x": {"datum": 0.0002315, "type": "quantitative"}, "x2": {"datum": 0.001}, "y": {"datum": 0, "type": "quantitative"}, "y2": {"datum": 20}}},
                  {"data": {"name": "P5_hpt"}, "mark": {"type": "line", "strokeWidth": 1}, "encoding": {
                    "x": {"field": "K", "type": "quantitative", "scale": {"type": "log", "domain": [1e-7, 1e-3], "nice": false}, "axis": {"title": "Est K (m/s)", "values": [1e-7,2e-7,3e-7,4e-7,5e-7,6e-7,7e-7,8e-7,9e-7,1e-6,2e-6,3e-6,4e-6,5e-6,6e-6,7e-6,8e-6,9e-6,1e-5,2e-5,3e-5,4e-5,5e-5,6e-5,7e-5,8e-5,9e-5,1e-4,2e-4,3e-4,4e-4,5e-4,6e-4,7e-4,8e-4,9e-4,1e-3], "labelExpr": "abs(log(datum.value)/LN10 - round(log(datum.value)/LN10)) < 0.01 ? '10' : ''", "labelFontSize": 16, "labelPadding": 9, "labelOffset": -4, "labelFlush": false, "labelOverlap": false, "tickSize": 5, "titlePadding": 7}},
                    "y": {"field": "depth", "type": "quantitative", "scale": {"domain": [0, 20], "reverse": true, "nice": false, "zero": false}, "axis": {"title": null, "values": [0,1,2,3,4,5,6,7,8,9,10,11,12,13,14,15,16,17,18,19,20], "labelExpr": "datum.value % 2 == 0 ? datum.label : ''", "tickSize": 5, "labelPadding": 12, "labelOverlap": false}},
                    "order": {"field": "depth"},
                    "color": {"datum": "K_est HPT", "scale": {"domain": ["K_est HPT", "Slug test"], "range": ["#ff0000", "#0b6b37"]}, "legend": {"title": "P5", "legendX": 6, "legendY": 361, "encode": {"symbols": {"update": {"strokeWidth": {"signal": "datum.value == 'Slug test' ? 5 : 1.2"}, "strokeCap": {"value": "round"}}}}}}
                  }},
                  {"data": {"name": "slug"}, "transform": [{"filter": "datum.well == 'P5'"}], "mark": {"type": "rule", "strokeWidth": 5, "strokeCap": "round"}, "encoding": {"x": {"field": "K", "type": "quantitative"}, "y": {"field": "top", "type": "quantitative"}, "y2": {"field": "bottom"}, "color": {"datum": "Slug test"}}}
                ]},
                {"data": {"values": [{}]}, "mark": {"type": "point", "opacity": 0}, "encoding": {
                  "x": {"datum": 1e-5, "type": "quantitative", "scale": {"type": "log", "domain": [1e-7, 1e-3], "nice": false}, "axis": {"orient": "bottom", "title": null, "values": [1e-7, 1e-6, 1e-5, 1e-4, 1e-3], "labelExpr": "'-' + format(-round(log(datum.value)/LN10), 'd')", "domain": false, "ticks": false, "tickSize": 0, "labelFontSize": 11, "labelPadding": 9, "labelOffset": 10, "labelFlush": false, "labelOverlap": false}},
                  "y": {"datum": 0, "type": "quantitative"}}}
              ],
              "resolve": {"scale": {"x": "independent"}, "axis": {"x": "independent"}}
            },
            {"width": 341, "height": 429, "data": {"values": []}, "mark": "point"},
            {
              "width": 179, "height": 429,
              "view": {"stroke": "#444", "strokeWidth": 1},
              "layer": [
                {"layer": [
                  {"data": {"values": [{}]}, "mark": {"type": "rect", "color": "#EAD27D"}, "encoding": {"x": {"datum": 0.0002315, "type": "quantitative"}, "x2": {"datum": 0.001}, "y": {"datum": 0, "type": "quantitative"}, "y2": {"datum": 20}}},
                  {"data": {"values": [{}]}, "mark": {"type": "text", "text": "Upper limit for HPT method (20m/d)", "angle": 270, "font": "Open Sans", "fontSize": 14, "color": "#F2A050", "align": "center", "baseline": "middle"}, "encoding": {"x": {"datum": 0.00048, "type": "quantitative"}, "y": {"datum": 10.9, "type": "quantitative"}}},
                  {"data": {"name": "P4_hpt"}, "mark": {"type": "line", "strokeWidth": 1}, "encoding": {
                    "x": {"field": "K", "type": "quantitative", "scale": {"type": "log", "domain": [1e-7, 1e-3], "nice": false}, "axis": {"title": "Est K (m/s)", "values": [1e-7,2e-7,3e-7,4e-7,5e-7,6e-7,7e-7,8e-7,9e-7,1e-6,2e-6,3e-6,4e-6,5e-6,6e-6,7e-6,8e-6,9e-6,1e-5,2e-5,3e-5,4e-5,5e-5,6e-5,7e-5,8e-5,9e-5,1e-4,2e-4,3e-4,4e-4,5e-4,6e-4,7e-4,8e-4,9e-4,1e-3], "labelExpr": "abs(log(datum.value)/LN10 - round(log(datum.value)/LN10)) < 0.01 ? '10' : ''", "labelFontSize": 16, "labelPadding": 9, "labelOffset": -4, "labelFlush": false, "labelOverlap": false, "tickSize": 5, "titlePadding": 7}},
                    "y": {"field": "depth", "type": "quantitative", "scale": {"domain": [0, 20], "reverse": true, "nice": false, "zero": false}, "axis": {"title": null, "values": [0,1,2,3,4,5,6,7,8,9,10,11,12,13,14,15,16,17,18,19,20], "labelExpr": "datum.value % 2 == 0 ? datum.label : ''", "tickSize": 5, "labelPadding": 12, "labelOverlap": false}},
                    "order": {"field": "depth"},
                    "color": {"datum": "K_est HPT", "scale": {"domain": ["K_est HPT", "Slug test"], "range": ["#ff0000", "#0b6b37"]}, "legend": {"title": "P4", "legendX": 4, "legendY": 94, "encode": {"symbols": {"update": {"strokeWidth": {"signal": "datum.value == 'Slug test' ? 5 : 1.2"}, "strokeCap": {"value": "round"}}}}}}
                  }},
                  {"data": {"name": "slug"}, "transform": [{"filter": "datum.well == 'P4'"}], "mark": {"type": "rule", "strokeWidth": 5, "strokeCap": "round"}, "encoding": {"x": {"field": "K", "type": "quantitative"}, "y": {"field": "top", "type": "quantitative"}, "y2": {"field": "bottom"}, "color": {"datum": "Slug test"}}}
                ]},
                {"data": {"values": [{}]}, "mark": {"type": "point", "opacity": 0}, "encoding": {
                  "x": {"datum": 1e-5, "type": "quantitative", "scale": {"type": "log", "domain": [1e-7, 1e-3], "nice": false}, "axis": {"orient": "bottom", "title": null, "values": [1e-7, 1e-6, 1e-5, 1e-4, 1e-3], "labelExpr": "'-' + format(-round(log(datum.value)/LN10), 'd')", "domain": false, "ticks": false, "tickSize": 0, "labelFontSize": 11, "labelPadding": 9, "labelOffset": 10, "labelFlush": false, "labelOverlap": false}},
                  "y": {"datum": 0, "type": "quantitative"}}}
              ],
              "resolve": {"scale": {"x": "independent"}, "axis": {"x": "independent"}}
            }
          ],
          "spacing": 0, "bounds": "flush",
          "resolve": {"scale": {"color": "independent"}, "legend": {"color": "independent"}}
        }
      ]
    },
    {"width": 16, "height": 1400, "data": {"values": []}, "mark": "point", "view": {"fill": "#000", "stroke": null}}
  ]
}
